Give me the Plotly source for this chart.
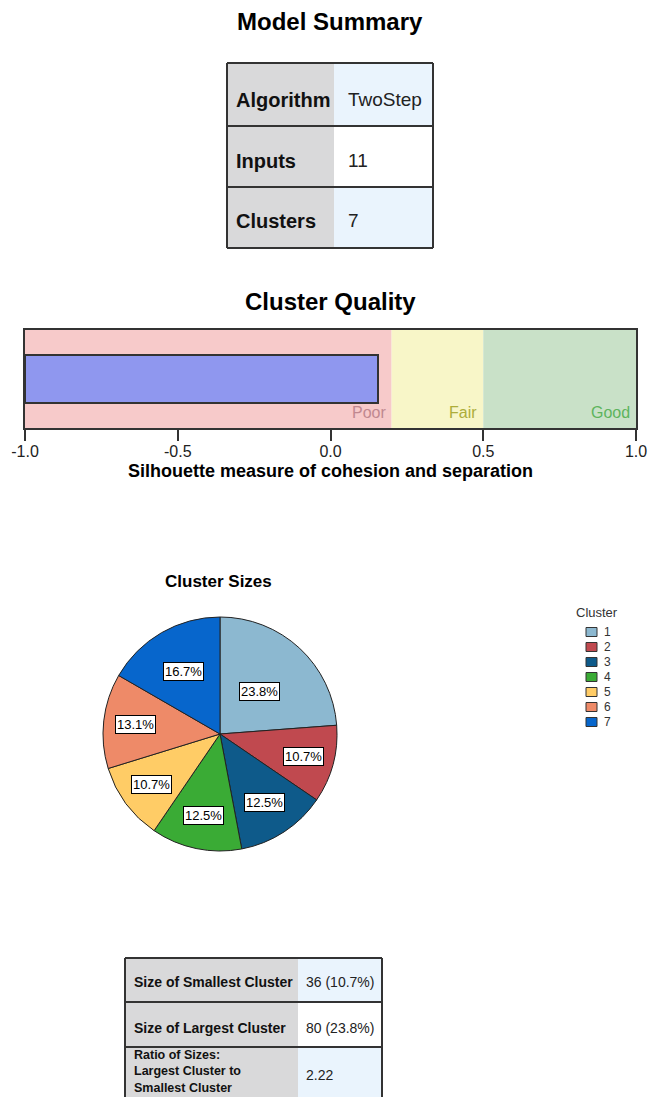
import math
import plotly.graph_objects as go

W, H = 649, 1097
FONT = "Liberation Sans, Arial, sans-serif"

# ---------------- data ----------------
summary_labels = ["Algorithm", "Inputs", "Clusters"]
summary_values = ["TwoStep", "11", "7"]

silhouette = 0.155
quality_bounds = [-1.0, 0.2, 0.5, 1.0]
quality_names = ["Poor", "Fair", "Good"]
tick_vals = [-1.0, -0.5, 0.0, 0.5, 1.0]
tick_text = ["-1.0", "-0.5", "0.0", "0.5", "1.0"]

cluster_names = ["1", "2", "3", "4", "5", "6", "7"]
cluster_counts = [80, 36, 42, 42, 36, 44, 56]

size_labels = ["Size of Smallest Cluster", "Size of Largest Cluster",
               "Ratio of Sizes:<br>Largest Cluster to<br>Smallest Cluster"]
size_values = ["36 (10.7%)", "80 (23.8%)", "2.22"]

# ---------------- style ----------------
quality_fill = ["#F7CACA", "#F8F6C8", "#C9E1C8"]
quality_text = ["#C08890", "#ADAD3A", "#5DB45D"]
bar_color = "#8F97EF"
pie_colors = ["#8CB8D0", "#C0494F", "#0E5A8A", "#3AAB35", "#FFCC66", "#EE8A68", "#0766CC"]
label_r = [0.50, 0.74, 0.70, 0.71, 0.73, 0.73, 0.62]
GRAY = "#D9D9DA"
LBLUE = "#EAF4FD"
BORDER = "#333333"


def fx(x):
    return x / W


def fy(y):
    return 1 - y / H


fig = go.Figure()
shapes = []
annotations = []


def add_text(x, y, text, size, bold=False, color="#000", xanchor="center", **kw):
    annotations.append(dict(
        x=fx(x), y=fy(y), xref="paper", yref="paper", text=f"<b>{text}</b>" if bold else text,
        showarrow=False, xanchor=xanchor, yanchor="middle", align="left",
        font=dict(family=FONT, size=size, color=color), **kw))


def draw_table(left, split, right, edges, labels, values, fills, lsize, vsize, vpad, text_y, multi_y):
    for i in range(len(labels)):
        y0, y1 = edges[i], edges[i + 1]
        shapes.append(dict(type="rect", xref="paper", yref="paper", x0=fx(left), x1=fx(split),
                           y0=fy(y1), y1=fy(y0), fillcolor=GRAY, line=dict(width=0), layer="below"))
        shapes.append(dict(type="rect", xref="paper", yref="paper", x0=fx(split), x1=fx(right),
                           y0=fy(y1), y1=fy(y0), fillcolor=fills[i], line=dict(width=0), layer="below"))
        n = labels[i].count("<br>") + 1
        if n == 1:
            add_text(left + 7, text_y[i], labels[i], lsize, bold=True, color="#111", xanchor="left")
        else:
            add_text(left + 7, multi_y, labels[i], lsize - 1.5, bold=True, color="#111", xanchor="left")
        add_text(split + vpad, text_y[i], values[i], vsize, color="#222", xanchor="left")
    for y in edges:
        shapes.append(dict(type="line", xref="paper", yref="paper", x0=fx(left), x1=fx(right),
                           y0=fy(y), y1=fy(y), line=dict(color=BORDER, width=2)))
    for x in (left, right):
        shapes.append(dict(type="line", xref="paper", yref="paper", x0=fx(x), x1=fx(x),
                           y0=fy(edges[-1]), y1=fy(edges[0]), line=dict(color=BORDER, width=2)))


# ---------------- Model Summary ----------------
add_text(330, 21, "Model Summary", 24, bold=True)
draw_table(227, 334, 433, [63, 126, 187, 248], summary_labels, summary_values,
           [LBLUE, "#FFFFFF", LBLUE], 20, 19, 12, [100, 161, 221], None)

# ---------------- Cluster Quality ----------------
add_text(330, 301, "Cluster Quality", 24, bold=True)
for i, name in enumerate(quality_names):
    shapes.append(dict(type="rect", xref="x", yref="y", x0=quality_bounds[i], x1=quality_bounds[i + 1],
                       y0=0, y1=1, fillcolor=quality_fill[i], line=dict(width=0), layer="below"))
    annotations.append(dict(x=quality_bounds[i + 1], y=0.16, xref="x", yref="y", text=name,
                            showarrow=False, xanchor="right", yanchor="middle", xshift=-4,
                            font=dict(family=FONT, size=16, color=quality_text[i])))

fig.add_trace(go.Bar(x=[silhouette - quality_bounds[0]], base=[quality_bounds[0]], y=[0.5],
                     width=0.49, orientation="h", marker=dict(color=bar_color,
                     line=dict(color=BORDER, width=2)), showlegend=False, hoverinfo="skip"))
add_text(330, 471, "Silhouette measure of cohesion and separation", 18, bold=True)

# ---------------- Cluster Sizes pie ----------------
add_text(218, 581, "Cluster Sizes", 17, bold=True)
cx, cy, R = 220, 734, 117
fig.add_trace(go.Pie(labels=cluster_names, values=cluster_counts, sort=False, direction="clockwise",
                     rotation=0, textinfo="none", hoverinfo="label+percent",
                     marker=dict(colors=pie_colors, line=dict(color="#222", width=1)),
                     domain=dict(x=[fx(cx - R), fx(cx + R)], y=[fy(cy + R), fy(cy - R)]),
                     showlegend=False))

total = sum(cluster_counts)
cum = 0
for i, c in enumerate(cluster_counts):
    mid = (cum + c / 2) / total * 2 * math.pi
    cum += c
    lx = cx + R * label_r[i] * math.sin(mid)
    ly = cy - R * label_r[i] * math.cos(mid)
    add_text(lx, ly, f"{100 * c / total:.1f}%", 13, color="#000",
             bgcolor="#FFFFFF", bordercolor="#000", borderwidth=1, borderpad=1)

# legend (manual)
add_text(597, 612, "Cluster", 13, color="#333")
for i, name in enumerate(cluster_names):
    yc = 632 + 15 * i
    shapes.append(dict(type="rect", xref="paper", yref="paper", x0=fx(586), x1=fx(597),
                       y0=fy(yc + 4.5), y1=fy(yc - 4.5), fillcolor=pie_colors[i],
                       line=dict(color="#333", width=1)))
    add_text(602, yc, name, 12, color="#333", xanchor="left")

# ---------------- size table ----------------
draw_table(125, 298, 382, [958, 1002, 1047, 1120], size_labels, size_values,
           [LBLUE, "#FFFFFF", LBLUE], 14, 14, 6, [982, 1028, 1075], 1071)

fig.update_layout(
    width=W, height=H, margin=dict(l=0, r=0, t=0, b=0),
    paper_bgcolor="white", plot_bgcolor="white",
    shapes=shapes, annotations=annotations,
    xaxis=dict(domain=[fx(25), fx(636)], range=[-1, 1], tickvals=tick_vals, ticktext=tick_text,
               ticks="outside", ticklen=11, tickwidth=1.5, tickcolor=BORDER, showgrid=False,
               zeroline=False, showline=True, linecolor=BORDER, linewidth=2, mirror=True,
               automargin=False, ticklabelstandoff=-3,
               tickfont=dict(family=FONT, size=16, color="#222"), fixedrange=True),
    yaxis=dict(domain=[fy(428), fy(330)], range=[0, 1], showticklabels=False, ticks="",
               showgrid=False, zeroline=False, showline=True, linecolor=BORDER, linewidth=2,
               mirror=True, automargin=False, fixedrange=True),
    bargap=0,
)

fig.write_html("out.html")
